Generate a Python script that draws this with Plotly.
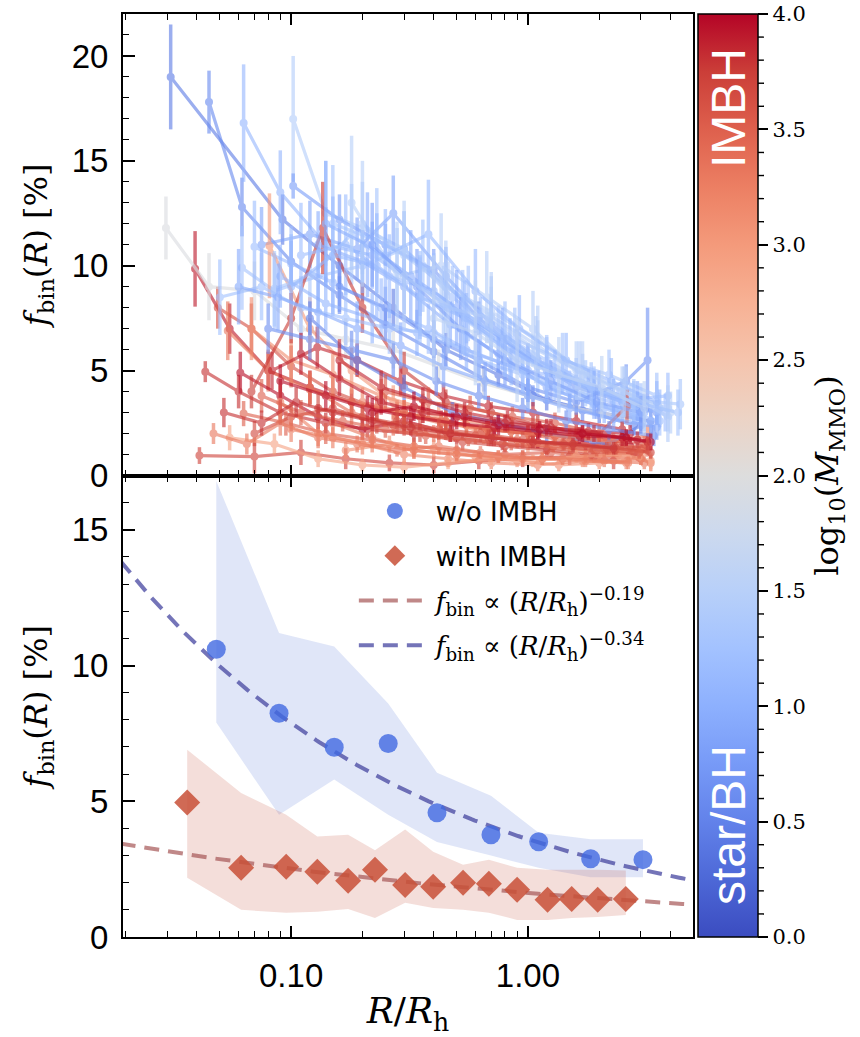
import numpy as np
import plotly.graph_objects as go
from plotly.colors import sample_colorscale

# ---------------- data: top panel (individual clusters) ----------------
# blue: clusters whose most massive object is a star / stellar BH
B01_M, B01_R, B01_F, B01_E = 0.45, [0.031, 0.092, 0.16, 0.27, 0.45, 0.75, 1.2, 2.0, 3.3], [19.0, 12.2, 10.0, 8.0, 6.0, 4.8, 3.6, 3.0, 2.6], [2.5, 1.2, 1.1, 0.9, 0.8, 0.6, 0.5, 0.5, 0.6]
B02_M, B02_R, B02_F, B02_E = 0.6, [0.045, 0.062, 0.1, 0.16, 0.25, 0.4, 0.65, 1.05, 1.7, 2.8], [17.8, 12.8, 10.2, 8.6, 7.2, 5.9, 4.6, 3.8, 3.1, 2.4], [1.5, 1.4, 1.0, 0.9, 0.8, 0.7, 0.6, 0.5, 0.5, 0.5]
B03_M, B03_R, B03_F, B03_E = 1.1, [0.063, 0.09, 0.14, 0.22, 0.35, 0.55, 0.9, 1.4, 2.3, 3.6], [16.8, 13.5, 11.0, 10.5, 9.0, 7.5, 6.0, 4.8, 3.8, 3.2], [2.8, 2.0, 1.8, 1.6, 1.4, 1.2, 1.0, 0.9, 0.8, 0.9]
B04_M, B04_R, B04_F, B04_E = 1.45, [0.102, 0.14, 0.2, 0.3, 0.45, 0.7, 1.1, 1.7, 2.7], [17.0, 12.5, 11.8, 10.8, 9.0, 7.6, 6.2, 4.8, 3.5], [3.0, 2.5, 2.2, 1.8, 1.6, 1.4, 1.2, 1.0, 0.9]
B05_M, B05_R, B05_F, B05_E = 0.8, [0.102, 0.16, 0.25, 0.4, 0.62, 1.0, 1.6, 2.5, 3.5], [13.8, 12.2, 11.0, 9.8, 7.5, 5.6, 4.2, 3.5, 3.0], [0.6, 1.2, 1.0, 1.0, 0.8, 0.7, 0.6, 0.5, 0.6]
B06_M, B06_R, B06_F, B06_E = 1.95, [0.0296, 0.045, 0.07, 0.11, 0.17, 0.27, 0.42, 0.65, 1.0, 1.6, 2.5], [11.8, 9.0, 8.8, 7.0, 6.5, 6.0, 5.2, 4.4, 3.8, 3.2, 2.8], [1.5, 1.6, 1.4, 1.2, 1.0, 0.9, 0.8, 0.7, 0.6, 0.6, 0.6]
B07_M, B07_R, B07_F, B07_E = 0.9, [0.075, 0.12, 0.19, 0.27, 0.45, 0.7, 1.1, 1.8, 2.9], [11.0, 11.5, 10.8, 12.5, 9.5, 7.2, 5.5, 4.3, 3.3], [1.8, 1.6, 1.5, 1.8, 1.4, 1.1, 0.9, 0.8, 0.7]
B08_M, B08_R, B08_F, B08_E = 1.3, [0.062, 0.085, 0.13, 0.2, 0.3, 0.48, 0.75, 1.2, 1.9, 3.0], [9.9, 8.8, 9.5, 10.0, 10.8, 8.5, 6.8, 5.5, 4.2, 3.5], [2.0, 1.8, 1.7, 1.7, 1.8, 1.5, 1.3, 1.1, 1.0, 0.9]
B09_M, B09_R, B09_F, B09_E = 1.2, [0.07, 0.1, 0.15, 0.24, 0.38, 0.6, 0.95, 1.5, 2.4, 3.8], [10.9, 10.1, 9.2, 8.0, 7.0, 5.8, 5.0, 4.1, 3.4, 3.0], [2.2, 1.8, 1.6, 1.4, 1.2, 1.1, 1.0, 0.9, 0.8, 0.9]
B10_M, B10_R, B10_F, B10_E = 1.35, [0.085, 0.12, 0.18, 0.28, 0.44, 0.7, 1.1, 1.75, 2.8, 4.4], [8.9, 9.5, 11.5, 9.8, 8.2, 6.5, 5.2, 4.4, 3.6, 3.4], [1.8, 2.0, 2.4, 2.0, 1.8, 1.5, 1.3, 1.1, 1.0, 1.2]
B11_M, B11_R, B11_F, B11_E = 1.0, [0.13, 0.2, 0.3, 0.47, 0.75, 1.2, 1.9, 3.0], [11.0, 10.2, 9.0, 7.2, 5.8, 4.2, 3.4, 2.8], [1.6, 1.5, 1.3, 1.1, 0.9, 0.8, 0.7, 0.7]
B12_M, B12_R, B12_F, B12_E = 1.2, [0.11, 0.17, 0.26, 0.4, 0.63, 1.0, 1.6, 2.5, 3.9], [10.5, 11.0, 9.5, 8.8, 7.0, 5.0, 4.5, 3.6, 3.8], [2.5, 2.4, 2.0, 1.8, 1.5, 1.2, 1.1, 1.0, 1.1]
B13_M, B13_R, B13_F, B13_E = 0.7, [0.16, 0.25, 0.4, 0.62, 1.0, 1.6, 2.6, 3.2], [9.0, 8.0, 6.5, 5.5, 4.2, 3.5, 4.5, 5.5], [1.2, 1.0, 0.9, 0.8, 0.7, 0.6, 0.8, 2.5]
B14_M, B14_R, B14_F, B14_E = 1.5, [0.2, 0.3, 0.45, 0.7, 1.1, 1.7, 2.6, 4.0], [12.0, 10.5, 9.0, 7.8, 6.5, 5.0, 4.0, 3.0], [3.0, 2.6, 2.2, 1.9, 1.6, 1.4, 1.2, 1.0]
B15_M, B15_R, B15_F, B15_E = 1.1, [0.09, 0.14, 0.22, 0.34, 0.55, 0.85, 1.35, 2.1, 3.3], [9.5, 8.2, 7.5, 6.8, 6.0, 5.2, 4.0, 3.2, 2.5], [1.5, 1.3, 1.2, 1.1, 1.0, 0.9, 0.8, 0.7, 0.7]
B16_M, B16_R, B16_F, B16_E = 1.3, [0.15, 0.23, 0.36, 0.56, 0.88, 1.4, 2.2, 3.5], [12.0, 11.2, 10.0, 8.2, 6.5, 5.5, 4.8, 3.8], [2.8, 2.5, 2.2, 1.8, 1.5, 1.3, 1.2, 1.1]
B17_M, B17_R, B17_F, B17_E = 0.5, [0.12, 0.19, 0.3, 0.48, 0.75, 1.2, 1.9, 2.2, 3.0], [7.5, 5.5, 4.2, 3.0, 2.5, 2.0, 1.6, 1.5, 2.4], [0.8, 0.7, 0.6, 0.5, 0.4, 0.4, 0.3, 0.3, 0.4]
B18_M, B18_R, B18_F, B18_E = 1.25, [0.05, 0.075, 0.11, 0.17, 0.26, 0.4, 0.62, 0.95, 1.5, 2.3, 3.6], [8.5, 9.0, 8.0, 7.5, 7.0, 6.8, 5.5, 4.8, 4.0, 3.2, 2.6], [1.8, 1.6, 1.5, 1.3, 1.2, 1.1, 1.0, 0.9, 0.8, 0.7, 0.7]
B19_M, B19_R, B19_F, B19_E = 1.5, [0.18, 0.28, 0.43, 0.67, 1.05, 1.6, 2.5, 3.9], [13.0, 9.5, 10.0, 8.5, 7.0, 5.0, 4.0, 3.2], [3.2, 2.6, 2.5, 2.2, 1.8, 1.4, 1.2, 1.1]
B20_M, B20_R, B20_F, B20_E = 1.15, [0.25, 0.38, 0.6, 0.92, 1.45, 2.25, 3.5], [10.5, 11.5, 8.8, 7.0, 5.5, 4.5, 3.5], [2.2, 2.6, 2.0, 1.6, 1.3, 1.1, 1.0]
B21_M, B21_R, B21_F, B21_E = 1.0, [0.14, 0.21, 0.32, 0.5, 0.78, 1.2, 1.9, 2.9], [12.0, 11.0, 9.5, 8.0, 6.5, 5.0, 4.0, 3.5], [3.0, 2.5, 2.2, 1.8, 1.5, 1.2, 1.0, 1.0]
B22_M, B22_R, B22_F, B22_E = 1.15, [0.1, 0.15, 0.23, 0.35, 0.54, 0.84, 1.3, 2.0, 3.1], [9.0, 10.5, 10.0, 8.5, 7.5, 6.0, 4.8, 4.0, 3.0], [2.5, 2.8, 2.5, 2.0, 1.8, 1.5, 1.2, 1.0, 0.9]
B23_M, B23_R, B23_F, B23_E = 0.85, [0.22, 0.34, 0.52, 0.8, 1.25, 1.95, 3.0], [11.0, 9.0, 7.0, 5.5, 4.5, 3.5, 3.0], [2.0, 1.8, 1.5, 1.2, 1.0, 0.8, 0.8]
B24_M, B24_R, B24_F, B24_E = 1.45, [0.3, 0.46, 0.7, 1.08, 1.65, 2.55, 3.9], [9.5, 8.0, 7.5, 6.0, 5.0, 4.0, 2.8], [2.5, 2.2, 2.0, 1.6, 1.4, 1.2, 1.2]
B25_M, B25_R, B25_F, B25_E = 0.65, [0.08, 0.12, 0.18, 0.27, 0.41, 0.62, 0.95, 1.45, 2.2, 3.4], [7.0, 6.5, 6.0, 5.5, 4.5, 3.8, 3.2, 2.6, 2.2, 1.9], [1.2, 1.0, 0.9, 0.8, 0.7, 0.6, 0.5, 0.5, 0.4, 0.5]
B26_M, B26_R, B26_F, B26_E = 1.3, [0.35, 0.53, 0.8, 1.2, 1.85, 2.8, 4.3], [8.5, 7.8, 6.5, 5.2, 4.2, 3.5, 3.0], [2.2, 2.0, 1.8, 1.5, 1.2, 1.0, 1.1]
B27_M, B27_R, B27_F, B27_E = 0.95, [0.06, 0.088, 0.13, 0.19, 0.29, 0.44, 0.66, 1.0, 1.5, 2.3, 3.5], [9.0, 8.5, 7.8, 7.0, 6.2, 5.2, 4.5, 3.8, 3.2, 2.7, 2.3], [1.8, 1.6, 1.5, 1.3, 1.1, 1.0, 0.9, 0.8, 0.7, 0.6, 0.6]
B28_M, B28_R, B28_F, B28_E = 1.6, [0.4, 0.6, 0.9, 1.35, 2.05, 3.1], [7.5, 6.8, 5.5, 4.8, 4.2, 3.2], [3.0, 2.5, 2.0, 1.8, 1.5, 1.3]

# red: clusters hosting an IMBH
R01_M, R01_R, R01_F, R01_E = 3.9, [0.0393, 0.055, 0.08, 0.12, 0.18, 0.28, 0.43, 0.67, 1.05, 1.6, 2.5], [9.85, 7.0, 5.0, 4.2, 3.5, 3.0, 2.6, 2.2, 2.0, 1.8, 1.6], [1.8, 1.2, 0.9, 0.8, 0.6, 0.5, 0.5, 0.4, 0.4, 0.4, 0.4]
R02_M, R02_R, R02_F, R02_E = 3.8, [0.0434, 0.06, 0.09, 0.14, 0.21, 0.33, 0.5, 0.78, 1.2, 1.9, 2.9], [4.95, 4.0, 3.0, 2.5, 2.2, 2.0, 1.8, 1.5, 1.3, 1.2, 1.0], [0.5, 0.8, 0.6, 0.5, 0.4, 0.4, 0.3, 0.3, 0.3, 0.3, 0.3]
R03_M, R03_R, R03_F, R03_E = 3.7, [0.041, 0.07, 0.11, 0.17, 0.26, 0.4, 0.62, 0.95, 1.5, 2.3], [0.95, 0.9, 1.1, 0.8, 0.6, 0.5, 0.7, 0.8, 0.9, 0.7], [0.4, 0.8, 0.6, 0.5, 0.4, 0.4, 0.4, 0.4, 0.4, 0.4]
R04_M, R04_R, R04_F, R04_E = 3.6, [0.049, 0.068, 0.1, 0.15, 0.23, 0.35, 0.55, 0.85, 1.3, 2.0, 3.1], [8.0, 7.0, 5.2, 4.0, 3.2, 2.8, 2.4, 2.1, 1.9, 1.7, 1.5], [1.0, 1.2, 1.0, 0.8, 0.6, 0.5, 0.5, 0.4, 0.4, 0.4, 0.4]
R05_M, R05_R, R05_F, R05_E = 3.3, [0.054, 0.08, 0.12, 0.18, 0.28, 0.43, 0.67, 1.05, 1.6, 2.5], [6.9, 5.0, 4.1, 3.5, 3.0, 2.5, 2.2, 2.0, 1.9, 1.7], [1.4, 1.0, 0.8, 0.7, 0.6, 0.5, 0.5, 0.4, 0.4, 0.4]
R06_M, R06_R, R06_F, R06_E = 3.95, [0.061, 0.09, 0.13, 0.2, 0.3, 0.47, 0.72, 1.1, 1.75, 2.7], [4.9, 3.8, 2.8, 2.2, 2.6, 2.0, 1.8, 1.6, 1.5, 1.4], [1.0, 0.8, 0.6, 0.5, 0.5, 0.4, 0.4, 0.3, 0.3, 0.3]
R07_M, R07_R, R07_F, R07_E = 3.5, [0.063, 0.095, 0.14, 0.22, 0.33, 0.5, 0.8, 1.25, 1.9, 3.0], [2.95, 2.5, 2.0, 1.7, 1.4, 1.2, 1.0, 1.1, 0.9, 0.8], [0.6, 0.6, 0.5, 0.4, 0.4, 0.3, 0.3, 0.3, 0.3, 0.3]
R08_M, R08_R, R08_F, R08_E = 3.1, [0.068, 0.1, 0.15, 0.24, 0.36, 0.55, 0.85, 1.3, 2.0, 3.1], [7.0, 5.5, 4.8, 3.8, 3.2, 2.6, 2.3, 1.9, 1.6, 1.3], [1.5, 1.2, 1.0, 0.8, 0.7, 0.6, 0.5, 0.5, 0.4, 0.4]
R09_M, R09_R, R09_F, R09_E = 3.0, [0.081, 0.12, 0.18, 0.27, 0.42, 0.65, 1.0, 1.55, 2.4], [10.95, 7.0, 5.0, 3.5, 2.8, 2.0, 1.5, 1.2, 1.0], [2.5, 1.5, 1.1, 0.8, 0.7, 0.5, 0.4, 0.4, 0.4]
R10_M, R10_R, R10_F, R10_E = 3.75, [0.068, 0.1, 0.136, 0.2, 0.3, 0.45, 0.7, 1.1, 1.7, 2.6], [4.0, 7.5, 11.8, 8.0, 5.0, 3.5, 3.0, 2.4, 2.0, 1.8], [0.8, 1.2, 2.2, 1.2, 0.9, 0.6, 0.5, 0.5, 0.4, 0.4]
R11_M, R11_R, R11_F, R11_E = 3.2, [0.09, 0.13, 0.2, 0.3, 0.46, 0.7, 1.1, 1.7, 2.6], [3.5, 2.0, 1.5, 1.0, 0.8, 0.6, 0.5, 0.7, 0.6], [0.8, 0.6, 0.5, 0.4, 0.4, 0.3, 0.3, 0.3, 0.3]
R12_M, R12_R, R12_F, R12_E = 3.85, [0.083, 0.129, 0.19, 0.29, 0.44, 0.68, 1.05, 1.6, 2.5], [5.0, 6.1, 5.5, 4.5, 3.8, 3.3, 3.0, 2.6, 2.2], [0.9, 1.0, 0.8, 0.7, 0.6, 0.5, 0.5, 0.4, 0.4]
R13_M, R13_R, R13_F, R13_E = 3.4, [0.12, 0.18, 0.27, 0.4, 0.6, 0.9, 1.4, 2.1, 3.2], [4.2, 3.0, 2.4, 2.0, 1.9, 1.7, 1.5, 1.3, 1.2], [0.8, 0.6, 0.5, 0.4, 0.4, 0.4, 0.3, 0.3, 0.3]
R14_M, R14_R, R14_F, R14_E = 3.3, [0.15, 0.22, 0.33, 0.5, 0.75, 1.15, 1.75, 2.7, 3.3], [2.5, 1.8, 1.2, 1.0, 0.9, 0.8, 0.9, 1.0, 0.6], [0.6, 0.5, 0.4, 0.4, 0.3, 0.3, 0.3, 0.3, 0.4]
R15_M, R15_R, R15_F, R15_E = 3.65, [0.07, 0.1, 0.15, 0.23, 0.35, 0.53, 0.8, 1.2, 1.85, 2.8], [2.0, 2.8, 3.2, 2.5, 2.0, 1.6, 1.4, 1.2, 1.0, 1.1], [0.6, 0.7, 0.7, 0.5, 0.4, 0.4, 0.3, 0.3, 0.3, 0.3]
R16_M, R16_R, R16_F, R16_E = 2.9, [0.055, 0.085, 0.13, 0.2, 0.3, 0.46, 0.7, 1.05, 1.6, 2.5, 3.3], [1.8, 1.5, 0.8, 0.5, 0.4, 0.6, 0.8, 0.7, 0.9, 1.0, 0.7], [0.6, 0.5, 0.4, 0.3, 0.3, 0.3, 0.3, 0.3, 0.3, 0.4, 0.4]
R17_M, R17_R, R17_F, R17_E = 3.2, [0.2, 0.3, 0.45, 0.68, 1.0, 1.5, 2.3, 3.2], [3.5, 3.0, 2.5, 2.2, 2.0, 1.8, 1.6, 1.9], [0.7, 0.6, 0.5, 0.4, 0.4, 0.4, 0.4, 0.5]
R18_M, R18_R, R18_F, R18_E = 3.55, [0.25, 0.38, 0.57, 0.86, 1.3, 2.0, 2.62], [4.0, 3.5, 3.2, 2.8, 2.5, 2.0, 3.3], [0.8, 0.7, 0.6, 0.5, 0.5, 0.4, 0.8]
R19_M, R19_R, R19_F, R19_E = 3.45, [0.3, 0.45, 0.68, 1.0, 1.5, 2.2, 3.0], [3.0, 2.6, 2.2, 2.0, 1.6, 1.3, 1.2], [0.6, 0.5, 0.4, 0.4, 0.3, 0.3, 0.3]
R20_M, R20_R, R20_F, R20_E = 3.1, [0.17, 0.26, 0.4, 0.6, 0.9, 1.35, 2.0, 3.0], [1.2, 1.5, 1.3, 0.9, 0.7, 0.5, 0.6, 0.8], [0.4, 0.4, 0.4, 0.3, 0.3, 0.3, 0.3, 0.3]
R21_M, R21_R, R21_F, R21_E = 3.9, [0.11, 0.16, 0.24, 0.36, 0.54, 0.8, 1.2, 1.8, 2.7], [5.8, 4.6, 3.5, 3.0, 2.8, 2.5, 2.3, 2.1, 2.0], [1.0, 0.8, 0.6, 0.5, 0.5, 0.4, 0.4, 0.4, 0.4]
R22_M, R22_R, R22_F, R22_E = 3.3, [0.047, 0.065, 0.09, 0.13, 0.19, 0.28, 0.42, 0.63, 0.95, 1.4, 2.1, 3.1], [2.0, 1.5, 2.5, 1.8, 1.5, 1.2, 1.4, 1.1, 0.9, 0.8, 0.7, 0.6], [0.5, 0.5, 0.6, 0.5, 0.4, 0.3, 0.4, 0.3, 0.3, 0.3, 0.3, 0.3]
R23_M, R23_R, R23_F, R23_E = 3.95, [0.09, 0.14, 0.21, 0.32, 0.48, 0.72, 1.1, 1.65, 2.5, 3.2], [4.5, 3.8, 3.2, 2.8, 2.5, 2.3, 2.1, 1.9, 1.8, 1.6], [0.8, 0.7, 0.6, 0.5, 0.5, 0.4, 0.4, 0.4, 0.4, 0.4]
R24_M, R24_R, R24_F, R24_E = 3.7, [0.13, 0.2, 0.3, 0.45, 0.68, 1.02, 1.55, 2.35, 3.3], [3.2, 2.8, 2.4, 2.1, 1.8, 1.6, 1.4, 1.3, 1.1], [0.7, 0.6, 0.5, 0.4, 0.4, 0.3, 0.3, 0.3, 0.3]
R25_M, R25_R, R25_F, R25_E = 3.85, [0.16, 0.24, 0.36, 0.54, 0.82, 1.25, 1.9, 2.9], [5.5, 4.2, 3.6, 3.0, 2.6, 2.3, 2.0, 1.7], [1.0, 0.8, 0.6, 0.5, 0.5, 0.4, 0.4, 0.4]
R26_M, R26_R, R26_F, R26_E = 3.5, [0.075, 0.11, 0.165, 0.25, 0.37, 0.56, 0.85, 1.28, 1.95, 2.95], [3.8, 3.0, 2.6, 2.2, 1.9, 1.7, 1.5, 1.4, 1.2, 1.1], [0.8, 0.6, 0.5, 0.4, 0.4, 0.3, 0.3, 0.3, 0.3, 0.3]
R27_M, R27_R, R27_F, R27_E = 3.98, [0.22, 0.33, 0.5, 0.75, 1.12, 1.7, 2.6, 3.3], [3.0, 3.3, 2.8, 2.4, 2.2, 2.0, 1.8, 1.6], [0.7, 0.7, 0.6, 0.5, 0.4, 0.4, 0.4, 0.4]
R28_M, R28_R, R28_F, R28_E = 3.25, [0.1, 0.15, 0.22, 0.33, 0.5, 0.75, 1.15, 1.75, 2.65], [2.2, 1.8, 1.5, 1.2, 1.0, 0.9, 0.8, 0.7, 0.6], [0.6, 0.5, 0.4, 0.4, 0.3, 0.3, 0.3, 0.3, 0.3]
R29_M, R29_R, R29_F, R29_E = 3.6, [0.28, 0.42, 0.63, 0.95, 1.42, 2.15, 3.2], [2.6, 2.2, 2.0, 1.7, 1.5, 1.3, 1.4], [0.6, 0.5, 0.4, 0.4, 0.3, 0.3, 0.4]
R30_M, R30_R, R30_F, R30_E = 3.8, [0.052, 0.075, 0.105, 0.15, 0.22, 0.32, 0.47, 0.7, 1.05, 1.55, 2.3], [3.0, 2.5, 3.5, 3.0, 2.6, 2.3, 2.0, 1.8, 1.6, 1.5, 1.3], [0.7, 0.6, 0.7, 0.6, 0.5, 0.4, 0.4, 0.4, 0.3, 0.3, 0.3]

# ---------------- data: bottom panel (stacked profiles) ----------------
NOIMBH_R = [0.0483, 0.0889, 0.152, 0.257, 0.413, 0.698, 1.11, 1.84, 3.06]
NOIMBH_F = [10.6, 8.24, 6.99, 7.13, 4.58, 3.77, 3.51, 2.88, 2.85]
NOIMBH_HI = [16.8, 11.2, 10.7, 8.6, 6.05, 5.2, 3.84, 3.6, 3.6]
NOIMBH_LO = [7.9, 4.5, 5.8, 4.5, 3.5, 3.0, 2.55, 2.2, 2.2]

IMBH_R = [0.0364, 0.0615, 0.0953, 0.129, 0.174, 0.226, 0.303, 0.398, 0.532, 0.684, 0.90, 1.21, 1.53, 1.97, 2.59]
IMBH_F = [4.95, 2.55, 2.59, 2.4, 2.07, 2.48, 1.92, 1.85, 2.0, 1.96, 1.74, 1.37, 1.4, 1.37, 1.4]
IMBH_HI = [6.9, 5.3, 4.5, 3.7, 3.77, 3.2, 3.96, 3.14, 2.66, 2.85, 2.55, 2.48, 2.48, 2.48, 2.45]
IMBH_LO = [2.18, 1.0, 0.89, 0.93, 1.03, 0.7, 1.26, 1.07, 1.0, 0.89, 0.63, 0.63, 0.7, 0.74, 0.81]

FIT_IMBH_NORM, FIT_IMBH_SLOPE = 1.62, -0.19
FIT_NOIMBH_NORM, FIT_NOIMBH_SLOPE = 3.6, -0.34

CBAR_MAJOR = [0.0, 0.5, 1.0, 1.5, 2.0, 2.5, 3.0, 3.5, 4.0]
CBAR_MAJOR_TEXT = ["0.0", "0.5", "1.0", "1.5", "2.0", "2.5", "3.0", "3.5", "4.0"]
X_MAJOR = [0.1, 1.0]
X_MAJOR_TEXT = ["0.10", "1.00"]
X_MINOR = [0.02, 0.03, 0.04, 0.05, 0.06, 0.07, 0.08, 0.09,
           0.2, 0.3, 0.4, 0.5, 0.6, 0.7, 0.8, 0.9, 2, 3, 4]

BLUE = [(B01_M, B01_R, B01_F, B01_E), (B02_M, B02_R, B02_F, B02_E), (B03_M, B03_R, B03_F, B03_E),
        (B04_M, B04_R, B04_F, B04_E), (B05_M, B05_R, B05_F, B05_E), (B06_M, B06_R, B06_F, B06_E),
        (B07_M, B07_R, B07_F, B07_E), (B08_M, B08_R, B08_F, B08_E), (B09_M, B09_R, B09_F, B09_E),
        (B10_M, B10_R, B10_F, B10_E), (B11_M, B11_R, B11_F, B11_E), (B12_M, B12_R, B12_F, B12_E),
        (B13_M, B13_R, B13_F, B13_E), (B14_M, B14_R, B14_F, B14_E), (B15_M, B15_R, B15_F, B15_E),
        (B16_M, B16_R, B16_F, B16_E), (B17_M, B17_R, B17_F, B17_E), (B18_M, B18_R, B18_F, B18_E),
        (B19_M, B19_R, B19_F, B19_E), (B20_M, B20_R, B20_F, B20_E), (B21_M, B21_R, B21_F, B21_E),
        (B22_M, B22_R, B22_F, B22_E), (B23_M, B23_R, B23_F, B23_E), (B24_M, B24_R, B24_F, B24_E),
        (B25_M, B25_R, B25_F, B25_E), (B26_M, B26_R, B26_F, B26_E), (B27_M, B27_R, B27_F, B27_E),
        (B28_M, B28_R, B28_F, B28_E)]
RED = [(R01_M, R01_R, R01_F, R01_E), (R02_M, R02_R, R02_F, R02_E), (R03_M, R03_R, R03_F, R03_E),
       (R04_M, R04_R, R04_F, R04_E), (R05_M, R05_R, R05_F, R05_E), (R06_M, R06_R, R06_F, R06_E),
       (R07_M, R07_R, R07_F, R07_E), (R08_M, R08_R, R08_F, R08_E), (R09_M, R09_R, R09_F, R09_E),
       (R10_M, R10_R, R10_F, R10_E), (R11_M, R11_R, R11_F, R11_E), (R12_M, R12_R, R12_F, R12_E),
       (R13_M, R13_R, R13_F, R13_E), (R14_M, R14_R, R14_F, R14_E), (R15_M, R15_R, R15_F, R15_E),
       (R16_M, R16_R, R16_F, R16_E), (R17_M, R17_R, R17_F, R17_E), (R18_M, R18_R, R18_F, R18_E),
       (R19_M, R19_R, R19_F, R19_E), (R20_M, R20_R, R20_F, R20_E), (R21_M, R21_R, R21_F, R21_E),
       (R22_M, R22_R, R22_F, R22_E), (R23_M, R23_R, R23_F, R23_E), (R24_M, R24_R, R24_F, R24_E),
       (R25_M, R25_R, R25_F, R25_E), (R26_M, R26_R, R26_F, R26_E), (R27_M, R27_R, R27_F, R27_E),
       (R28_M, R28_R, R28_F, R28_E), (R29_M, R29_R, R29_F, R29_E), (R30_M, R30_R, R30_F, R30_E)]

# ---------------- style ----------------
SERIF = "DejaVu Serif"
SANS = "Liberation Sans"
COOLWARM = [
    [0.0, "rgb(59,76,192)"], [0.0625, "rgb(77,104,215)"], [0.125, "rgb(98,130,234)"],
    [0.1875, "rgb(119,154,247)"], [0.25, "rgb(141,176,254)"], [0.3125, "rgb(163,194,255)"],
    [0.375, "rgb(184,208,249)"], [0.4375, "rgb(204,217,238)"], [0.5, "rgb(221,221,221)"],
    [0.5625, "rgb(236,211,197)"], [0.625, "rgb(245,196,173)"], [0.6875, "rgb(247,177,148)"],
    [0.75, "rgb(244,154,123)"], [0.8125, "rgb(236,127,99)"], [0.875, "rgb(222,96,77)"],
    [0.9375, "rgb(203,62,56)"], [1.0, "rgb(180,4,38)"]]
CMIN, CMAX = 0.0, 4.0

PLOT_L, PLOT_R, PLOT_T, PLOT_B = 123, 693, 14, 937
W, H = 860, 1037
PW = PLOT_R - PLOT_L


def cmap(v):
    return sample_colorscale(COOLWARM, [(v - CMIN) / (CMAX - CMIN)])[0]


fig = go.Figure()

# ---- top panel: interleave blue and red clusters ----
order = []
for i in range(max(len(BLUE), len(RED))):
    if i < len(BLUE):
        order.append(BLUE[i])
    if i < len(RED):
        order.append(RED[i])
for m, r, f, e in order:
    c = cmap(m)
    fig.add_trace(go.Scatter(
        x=r, y=f, xaxis="x2", yaxis="y2", mode="lines+markers",
        line=dict(color=c, width=3.2), marker=dict(color=c, size=8),
        error_y=dict(type="data", array=e, color=c, thickness=3.5, width=0),
        opacity=0.62, showlegend=False, hoverinfo="skip"))

# ---- bottom panel ----
fig.add_trace(go.Scatter(
    x=NOIMBH_R + NOIMBH_R[::-1], y=NOIMBH_HI + NOIMBH_LO[::-1],
    fill="toself", fillcolor="rgba(100,130,220,0.2)", line=dict(width=0),
    mode="lines", showlegend=False, hoverinfo="skip"))
fig.add_trace(go.Scatter(
    x=IMBH_R + IMBH_R[::-1], y=IMBH_HI + IMBH_LO[::-1],
    fill="toself", fillcolor="rgba(200,90,70,0.2)", line=dict(width=0),
    mode="lines", showlegend=False, hoverinfo="skip"))

rfit = np.logspace(-1.72, 0.70, 200)
fig.add_trace(go.Scatter(
    x=rfit, y=FIT_IMBH_NORM * rfit ** FIT_IMBH_SLOPE, mode="lines",
    line=dict(color="rgba(165,85,85,0.7)", width=4, dash="15px,9px"),
    name="<i>f</i><sub>bin</sub> ∝ (<i>R</i>/<i>R</i><sub>h</sub>)<sup>−0.19</sup>",
    legendrank=3, legendgroup="g3"))
fig.add_trace(go.Scatter(
    x=rfit, y=FIT_NOIMBH_NORM * rfit ** FIT_NOIMBH_SLOPE, mode="lines",
    line=dict(color="rgba(70,70,160,0.75)", width=4, dash="15px,9px"),
    name="<i>f</i><sub>bin</sub> ∝ (<i>R</i>/<i>R</i><sub>h</sub>)<sup>−0.34</sup>",
    legendrank=4, legendgroup="g4"))

fig.add_trace(go.Scatter(
    x=NOIMBH_R, y=NOIMBH_F, mode="markers",
    marker=dict(symbol="circle", size=19, color="rgba(65,105,225,0.8)"),
    name='<span style="font-family:DejaVu Sans">w/o IMBH</span>',
    legendrank=1, legendgroup="g1"))
fig.add_trace(go.Scatter(
    x=IMBH_R, y=IMBH_F, mode="markers",
    marker=dict(symbol="diamond", size=20, color="rgba(200,80,55,0.85)"),
    name='<span style="font-family:DejaVu Sans">with IMBH</span>',
    legendrank=2, legendgroup="g2"))

# colorbar carrier
cb_x = (698 - PLOT_L) / PW
fig.add_trace(go.Scatter(
    x=[None], y=[None], mode="markers", showlegend=False, hoverinfo="skip",
    marker=dict(color=[CMIN], cmin=CMIN, cmax=CMAX, colorscale=COOLWARM, showscale=True,
                colorbar=dict(
                    x=cb_x, xanchor="left", y=0.5, yanchor="middle", len=1, lenmode="fraction",
                    thickness=60, thicknessmode="pixels", xpad=0, ypad=0,
                    outlinewidth=1.5, outlinecolor="black",
                    ticks="outside", ticklen=10, tickwidth=1.6, tickcolor="black",
                    tickvals=CBAR_MAJOR, ticktext=CBAR_MAJOR_TEXT,
                    tickfont=dict(family=SERIF, size=21, color="black"),
                    title=dict(text="log<sub>10</sub>(<i>M</i><sub>MMO</sub>)", side="right",
                               font=dict(family=SERIF, size=32, color="black"))))))

# minor colorbar ticks (every 0.1)
cb_right = cb_x + 60 / PW
shapes = []
for k in range(41):
    if k % 5 == 0:
        continue
    yy = (0.1 * k - CMIN) / (CMAX - CMIN)
    shapes.append(dict(type="line", xref="paper", yref="paper", x0=cb_right, x1=cb_right + 6 / PW,
                       y0=yy, y1=yy, line=dict(color="black", width=1.4)))

cb_cx = cb_x + 30 / PW
annotations = [
    dict(text="IMBH", xref="paper", yref="paper", x=cb_cx, y=(PLOT_B - 108) / (PLOT_B - PLOT_T),
         showarrow=False, textangle=-90, font=dict(family=SANS, size=48, color="white"),
         xanchor="center", yanchor="middle"),
    dict(text="star/BH", xref="paper", yref="paper", x=cb_cx, y=(PLOT_B - 825) / (PLOT_B - PLOT_T),
         showarrow=False, textangle=-90, font=dict(family=SANS, size=48, color="white"),
         xanchor="center", yanchor="middle"),
]

axis_common = dict(showline=True, linewidth=2, linecolor="black", showgrid=False, zeroline=False,
                   ticks="inside", tickcolor="black", tickwidth=1.6)
ytitle = "<i>f</i><sub>bin</sub>(<i>R</i>) [%]"

fig.update_layout(
    width=W, height=H,
    margin=dict(l=PLOT_L, r=W - PLOT_R, t=PLOT_T, b=H - PLOT_B, autoexpand=False),
    paper_bgcolor="white", plot_bgcolor="white",
    showlegend=True,
    legend=dict(x=0.405, y=0.487, xanchor="left", yanchor="top", bgcolor="rgba(0,0,0,0)",
                font=dict(family=SERIF, size=26, color="black"), itemwidth=72,
                tracegroupgap=8, traceorder="grouped"),
    xaxis=dict(type="log", range=[-1.71, 0.697], domain=[0, 1], anchor="y",
               tickvals=X_MAJOR, ticktext=X_MAJOR_TEXT, ticklen=11, mirror="ticks",
               minor=dict(tickvals=X_MINOR, ticks="inside", ticklen=6, tickwidth=1.4, tickcolor="black"),
               tickfont=dict(family=SANS, size=33, color="black"), ticklabelstandoff=8,
               title=dict(text="<i>R</i>/<i>R</i><sub>h</sub>", font=dict(family=SERIF, size=36, color="black"),
                          standoff=10),
               **axis_common),
    xaxis2=dict(type="log", range=[-1.71, 0.697], domain=[0, 1], anchor="y2", matches="x",
                tickvals=X_MAJOR, ticklen=11, mirror="ticks", showticklabels=False,
                minor=dict(tickvals=X_MINOR, ticks="inside", ticklen=6, tickwidth=1.4, tickcolor="black"),
                **axis_common),
    yaxis=dict(range=[0, 17], domain=[0, 0.5], anchor="x", tickvals=[0, 5, 10, 15], ticklen=12,
               mirror=True, minor=dict(dtick=1, ticks="inside", ticklen=6, tickwidth=1.4, tickcolor="black"),
               tickfont=dict(family=SANS, size=33, color="black"), ticklabelstandoff=6,
               title=dict(text=ytitle, font=dict(family=SERIF, size=32, color="black"), standoff=14),
               **axis_common),
    yaxis2=dict(range=[0, 22], domain=[0.5, 1], anchor="x2", tickvals=[0, 5, 10, 15, 20], ticklen=12,
                mirror=True, minor=dict(dtick=1, ticks="inside", ticklen=6, tickwidth=1.4, tickcolor="black"),
                tickfont=dict(family=SANS, size=33, color="black"), ticklabelstandoff=6,
                title=dict(text=ytitle, font=dict(family=SERIF, size=32, color="black"), standoff=14),
                **axis_common),
    shapes=shapes,
    annotations=annotations,
)

fig.write_html("out.html")
